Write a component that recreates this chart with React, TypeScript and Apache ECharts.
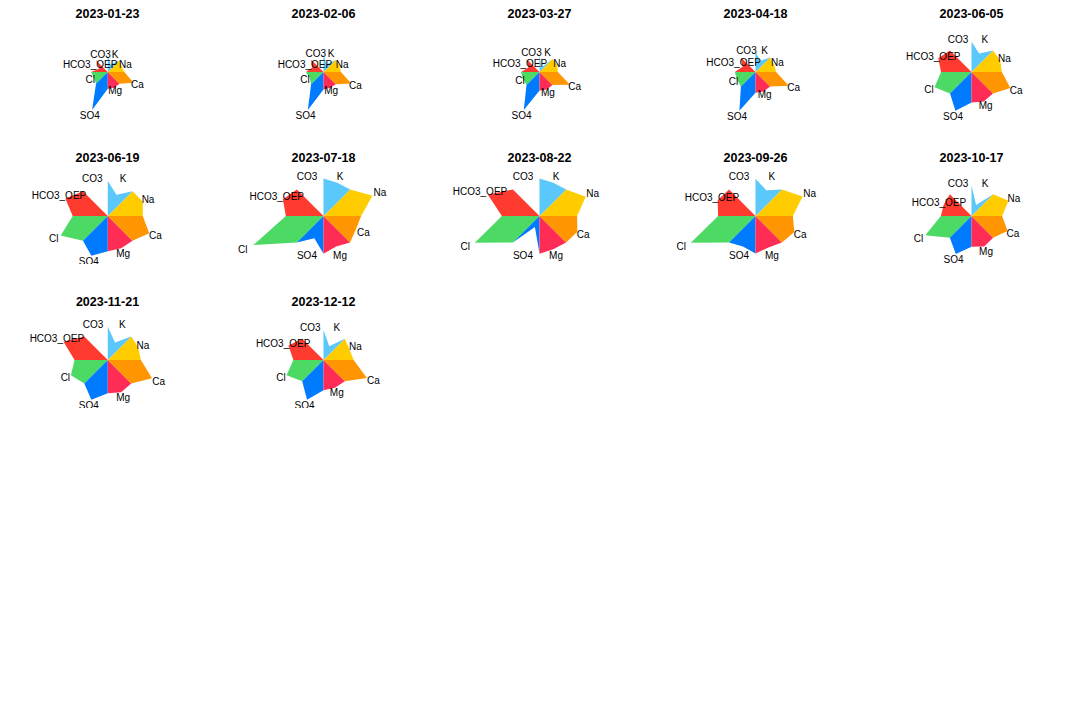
import React, { useEffect, useRef } from 'react';
import * as echarts from 'echarts';

const dates = [
  '2023-01-23', '2023-02-06', '2023-03-27', '2023-04-18', '2023-06-05',
  '2023-06-19', '2023-07-18', '2023-08-22', '2023-09-26', '2023-10-17',
  '2023-11-21', '2023-12-12',
];
// segment order counter-clockwise from east
const ions = ['Na', 'K', 'CO3', 'HCO3_OEP', 'Cl', 'SO4', 'Mg', 'Ca'];
const ionColors = ['#FFCC00', '#5AC8FA', '#8E8E93', '#FF3B30', '#4CD964', '#007AFF', '#FF2D55', '#FF9500'];

const naVals = [15, 17, 19, 20, 31, 38, 53, 50, 51, 40, 33, 28];
const kVals = [8, 8, 5, 12, 20, 23, 36, 36, 28, 12, 19, 15];
const co3Vals = [0, 0, 0, 0, 0, 0, 0, 0, 0, 0, 0, 0];
const hco3Vals = [9, 12, 12, 14, 36, 46, 44, 56, 41, 30, 48, 38];
const clVals = [15, 15, 18, 20, 40, 51, 76, 70, 70, 50, 40, 40];
const so4Vals = [41, 41, 41, 42, 42, 43, 24, 12, 33, 41, 43, 43];
const mgVals = [17, 17, 19, 21, 32, 35, 33, 36, 34, 33, 35, 30];
const caVals = [28, 30, 33, 36, 42, 45, 35, 41, 42, 39, 48, 47];

const seriesByIon = [naVals, kVals, co3Vals, hco3Vals, clVals, so4Vals, mgVals, caVals];

const COLS = 5;
const CELL_W = 216;
const CELL_H = 144;
const FONT = '"Liberation Sans", Arial, sans-serif';

function buildOption() {
  const grids: any[] = [];
  const xAxes: any[] = [];
  const yAxes: any[] = [];
  const series: any[] = [];
  const graphics: any[] = [];

  dates.forEach((d, i) => {
    const col = i % COLS;
    const row = Math.floor(i / COLS);
    const left = col * CELL_W - 0.5;
    const top = row * CELL_H + 24;
    grids.push({ left, top, width: CELL_W, height: 96, containLabel: false });
    xAxes.push({ gridIndex: i, type: 'value', min: -108, max: 108, show: false });
    yAxes.push({ gridIndex: i, type: 'value', min: -48, max: 48, show: false });

    const vals = seriesByIon.map((arr) => arr[i]);
    const mean = vals.reduce((a, b) => a + b, 0) / vals.length;

    series.push({
      type: 'custom',
      xAxisIndex: i,
      yAxisIndex: i,
      clip: true,
      data: vals.map((v, j) => [j, v]),
      renderItem: (params: any, api: any) => {
        const j = api.value(0);
        const v = api.value(1);
        const a0 = j * 45;
        const am = j * 45 + 22.5;
        const a1 = j * 45 + 45;
        const pt = (r: number, deg: number) => {
          const t = (deg * Math.PI) / 180;
          return api.coord([r * Math.cos(t), r * Math.sin(t)]);
        };
        const c = api.coord([0, 0]);
        const lp = pt(Math.max(v, mean) * 1.15, am);
        return {
          type: 'group',
          children: [
            {
              type: 'polygon',
              z2: 1,
              shape: { points: [c, pt(mean, a0), pt(v, am), pt(mean, a1)] },
              style: { fill: ionColors[j], stroke: null },
            },
            {
              type: 'text',
              z2: 10,
              x: lp[0],
              y: lp[1],
              style: {
                text: ions[j],
                fill: '#000',
                font: `10px ${FONT}`,
                align: 'center',
                verticalAlign: 'middle',
                textAlign: 'center',
                textVerticalAlign: 'middle',
              },
            },
          ],
        };
      },
    });

    graphics.push({
      type: 'text',
      x: col * CELL_W + 107.5,
      y: row * CELL_H + 14,
      style: {
        text: d,
        fill: '#000',
        font: `bold 12.5px ${FONT}`,
        align: 'center',
        verticalAlign: 'middle',
        textAlign: 'center',
        textVerticalAlign: 'middle',
      },
    });
  });

  return {
    animation: false,
    backgroundColor: '#ffffff',
    grid: grids,
    xAxis: xAxes,
    yAxis: yAxes,
    series,
    graphic: graphics,
  };
}

export default function App() {
  const ref = useRef<HTMLDivElement>(null);
  useEffect(() => {
    if (!ref.current) return;
    const chart = echarts.init(ref.current, null, { renderer: 'svg' });
    chart.setOption(buildOption() as any);
    return () => chart.dispose();
  }, []);
  return (
    <div
      ref={ref}
      style={{ position: 'absolute', left: 0, top: 0, width: 1080, height: 720, background: '#fff' }}
    />
  );
}
